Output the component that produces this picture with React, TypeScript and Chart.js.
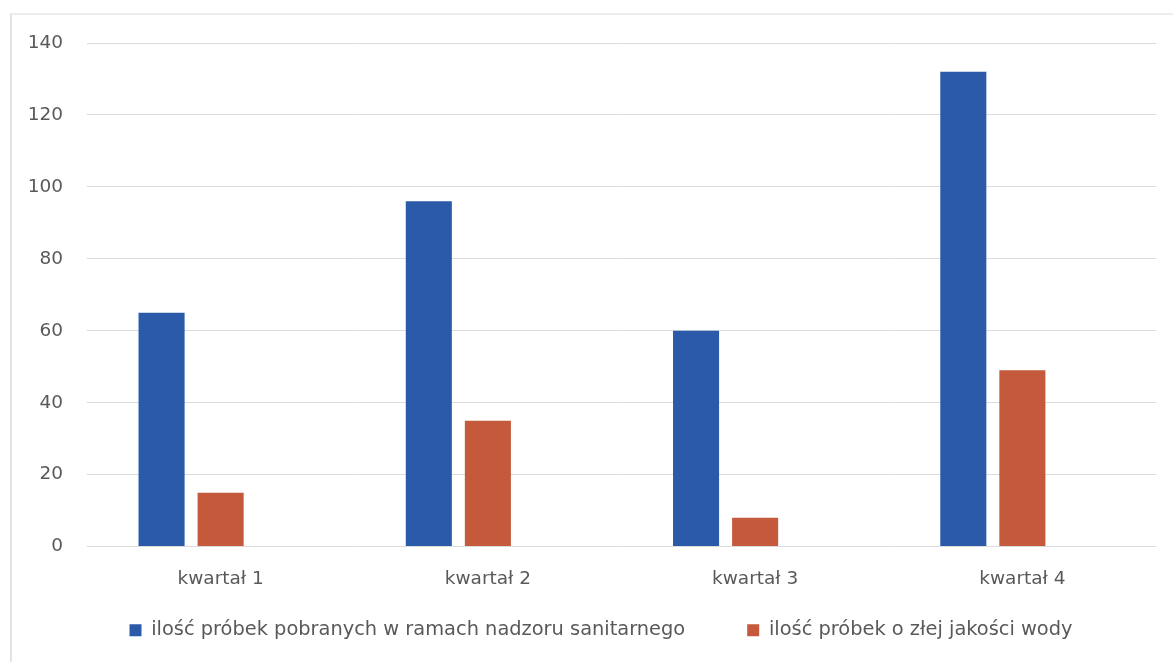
import React, { useEffect, useRef } from "react";
import { Chart, registerables } from "chart.js";

Chart.register(...registerables);

const categories = ["kwartał 1", "kwartał 2", "kwartał 3", "kwartał 4"];
const seriesNames = [
  "ilość próbek pobranych w ramach nadzoru sanitarnego",
  "ilość próbek o złej jakości wody",
];
const sampledValues = [65, 96, 60, 132];
const badQualityValues = [15, 35, 8, 49];
const emptySlot = [null, null, null, null];
const yMin = 0;
const yMax = 140;
const yStep = 20;

const FONT = "'DejaVu Sans', sans-serif";
const TEXT = "#595959";

const layoutTweak = {
  id: "layoutTweak",
  afterLayout(chart: any) {
    const x = chart.scales.x;
    x.bottom = x.top + 60;
    x.height = 60;
    const lg = chart.legend;
    if (lg) {
      lg.left += 18;
      lg.right += 18;
    }
  },
};

export default function App() {
  const ref = useRef<HTMLCanvasElement | null>(null);

  useEffect(() => {
    if (!ref.current) return;
    const chart = new Chart(ref.current, {
      type: "bar",
      data: {
        labels: categories,
        datasets: [
          {
            label: seriesNames[0],
            data: sampledValues,
            backgroundColor: "#2b5ba8",
            categoryPercentage: 0.663,
            barPercentage: 0.78,
          },
          {
            label: seriesNames[1],
            data: badQualityValues,
            backgroundColor: "#c4593c",
            categoryPercentage: 0.663,
            barPercentage: 0.78,
          },
          {
            label: "",
            data: emptySlot as any,
            backgroundColor: "rgba(0,0,0,0)",
            categoryPercentage: 0.663,
            barPercentage: 0.78,
          },
        ],
      },
      plugins: [layoutTweak],
      options: {
        animation: false,
        responsive: false,
        maintainAspectRatio: false,
        layout: { padding: { left: 10, right: 17, top: 43, bottom: 12 } },
        plugins: {
          tooltip: { enabled: false },
          legend: {
            position: "bottom",
            labels: {
              filter: (item: any) => item.text !== "",
              boxWidth: 12,
              boxHeight: 12,
              padding: 62,
              color: TEXT,
              font: { family: FONT, size: 19.4 },
            },
          },
        },
        scales: {
          x: {
            grid: { display: false, drawTicks: false },
            border: { display: false },
            ticks: {
              color: TEXT,
              padding: 21,
              font: { family: FONT, size: 18.5 },
            },
            afterFit: (s: any) => {
              s.height = 12;
            },
          },
          y: {
            min: yMin,
            max: yMax,
            grid: { color: "#dcdcdc", drawTicks: false, lineWidth: 1 },
            border: { display: false },
            ticks: {
              stepSize: yStep,
              color: TEXT,
              padding: 24,
              font: { family: FONT, size: 18.5 },
            },
            afterFit: (s: any) => {
              s.width = 77;
            },
          },
        },
      },
    });
    return () => chart.destroy();
  }, []);

  return (
    <div
      style={{
        position: "fixed",
        left: 0,
        top: 0,
        width: 1173,
        height: 662,
        background: "#fff",
        overflow: "hidden",
      }}
    >
      <div
        style={{
          position: "absolute",
          left: 10,
          top: 13,
          width: 1200,
          height: 700,
          borderLeft: "2px solid #e3e3e3",
          borderTop: "2px solid #ececec",
        }}
      />
      <canvas
        ref={ref}
        width={1173}
        height={662}
        style={{ position: "absolute", left: 0, top: 0, width: 1173, height: 662 }}
      />
    </div>
  );
}
